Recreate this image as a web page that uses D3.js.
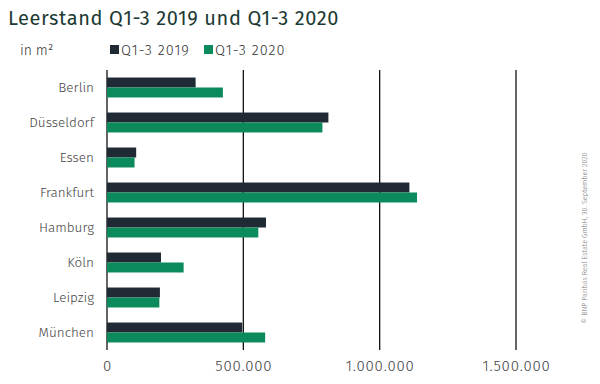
<!DOCTYPE html>
<html>
<head>
<meta charset="utf-8">
<script src="https://cdn.jsdelivr.net/npm/d3@7"></script>
<style>
  body { margin: 0; background: #fff; }
  svg { display: block; font-family: "Fira Sans", Lato, "Open Sans", sans-serif; }
</style>
</head>
<body>
<svg id="chart" width="600" height="384"></svg>
<script>
const categories = ["Berlin", "Düsseldorf", "Essen", "Frankfurt", "Hamburg", "Köln", "Leipzig", "München"];
const seriesNames = ["Q1-3 2019", "Q1-3 2020"];
const values2019 = [325000, 812000, 107000, 1109000, 583000, 198000, 194000, 496000];
const values2020 = [425000, 790000, 101000, 1137000, 555000, 281000, 192000, 580000];
const tickValues = [0, 500000, 1000000, 1500000];
const tickLabels = ["0", "500.000", "1.000.000", "1.500.000"];
const colors = ["#1f2a35", "#0b8a5c"];

const svg = d3.select("#chart");
const x = d3.scaleLinear().domain([0, 1500000]).range([107, 516]);
const y = d3.scaleBand().domain(categories).range([70, 350]).paddingInner(0.43).paddingOuter(0.215);
const y2 = d3.scaleBand().domain(seriesNames).range([0, y.bandwidth()]);

// title
svg.append("text").attr("x", 8).attr("y", 25)
  .attr("font-size", 20).attr("letter-spacing", 0.6).attr("fill", "#1c3a33").attr("font-weight", 400)
  .text("Leerstand Q1-3 2019 und Q1-3 2020");
svg.append("text").attr("x", 20).attr("y", 55).attr("font-weight", 300)
  .attr("font-size", 14).attr("fill", "#333").text("in m²");

// legend
const legX = [110, 204];
seriesNames.forEach((s, i) => {
  svg.append("rect").attr("x", legX[i]).attr("y", 45).attr("width", 9).attr("height", 9).attr("fill", colors[i]);
  svg.append("text").attr("x", legX[i] + 11).attr("y", 55).attr("font-size", 14.5).attr("letter-spacing", 1)
    .attr("font-weight", 300).attr("fill", "#333").text(s);
});

// grid lines
svg.append("g").selectAll("line").data(tickValues).join("line")
  .attr("x1", d => x(d)).attr("x2", d => x(d))
  .attr("y1", 70).attr("y2", 350)
  .attr("stroke", "#111").attr("stroke-width", 1.3);

// bars
const data = categories.map((c, i) => ({ c, v: [values2019[i], values2020[i]] }));
const groups = svg.append("g").selectAll("g").data(data).join("g")
  .attr("transform", d => `translate(0,${y(d.c)})`);
groups.selectAll("rect").data(d => d.v.map((v, i) => ({ v, s: seriesNames[i], i }))).join("rect")
  .attr("x", x(0)).attr("y", d => y2(d.s))
  .attr("width", d => x(d.v) - x(0)).attr("height", y2.bandwidth())
  .attr("fill", d => colors[d.i]);

// category labels
svg.append("g").selectAll("text").data(categories).join("text")
  .attr("x", 94).attr("y", d => y(d) + y.bandwidth() / 2 + 1)
  .attr("text-anchor", "end").attr("dominant-baseline", "middle")
  .attr("font-size", 13.5).attr("font-weight", 300).attr("fill", "#444").text(d => d);

// x axis labels
const xAxis = d3.axisBottom(x).tickValues(tickValues).tickFormat((d, i) => tickLabels[i]).tickSize(0).tickPadding(0);
const ax = svg.append("g").attr("transform", "translate(0,360)").call(xAxis);
ax.select(".domain").remove();
ax.selectAll("text").attr("font-size", 15).attr("letter-spacing", 0.8).attr("font-weight", 300)
  .attr("fill", "#444").attr("dy", "0.71em")
  .attr("font-family", "\"Fira Sans\", Lato, \"Open Sans\", sans-serif");

// copyright
svg.append("text").attr("transform", "translate(587,238) rotate(-90)")
  .attr("text-anchor", "middle").attr("font-size", 7.2).attr("font-weight", 300).attr("fill", "#777")
  .text("© BNP Paribas Real Estate GmbH, 30. September 2020");
</script>
</body>
</html>
